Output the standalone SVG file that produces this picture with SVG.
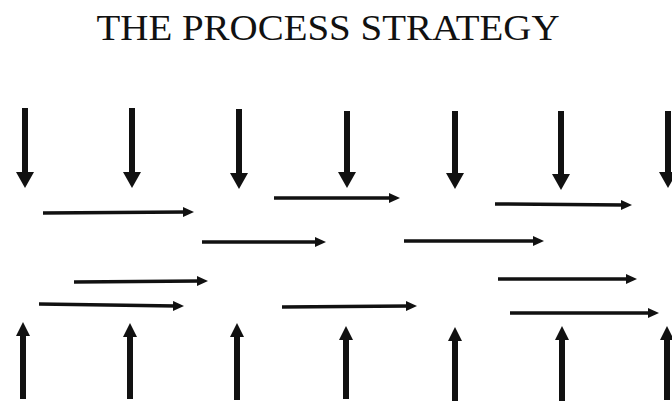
<svg xmlns="http://www.w3.org/2000/svg" width="672" height="410" viewBox="0 0 672 410">
  <style>
    .title { font-family: "Liberation Serif", "Times New Roman", serif; font-size: 35px; fill: #111; }
    .thick { stroke: #111; stroke-width: 6; fill: none; }
    .down { marker-end: url(#headBig); }
    .up { marker-end: url(#headUp); }
    .flow { stroke: #111; stroke-width: 3.5; fill: none; marker-end: url(#headSmall); }
  </style>
  <defs>
    <marker id="headBig" markerUnits="userSpaceOnUse" markerWidth="16" markerHeight="18" refX="5" refY="9" orient="auto" viewBox="0 0 16 18">
      <path d="M0,0 L16,9 L0,18 z" fill="#111"/>
    </marker>
    <marker id="headUp" markerUnits="userSpaceOnUse" markerWidth="14" markerHeight="14" refX="4" refY="7" orient="auto" viewBox="0 0 14 14">
      <path d="M0,0 L14,7 L0,14 z" fill="#111"/>
    </marker>
    <marker id="headSmall" markerUnits="userSpaceOnUse" markerWidth="11" markerHeight="10" refX="3" refY="5" orient="auto" viewBox="0 0 11 10">
      <path d="M0,0 L11,5 L0,10 z" fill="#111"/>
    </marker>
  </defs>

  <g id="title">
    <text class="title" x="328" y="40" text-anchor="middle" textLength="463" lengthAdjust="spacingAndGlyphs">THE PROCESS STRATEGY</text>
  </g>

  <g id="connectors">
    <!-- inputs coming down from above -->
    <g id="inputs">
      <line class="thick down" x1="25" y1="108" x2="25" y2="177"/>
      <line class="thick down" x1="132" y1="108" x2="132" y2="177"/>
      <line class="thick down" x1="239" y1="109" x2="239" y2="178"/>
      <line class="thick down" x1="347" y1="111" x2="347" y2="177"/>
      <line class="thick down" x1="455" y1="111" x2="455" y2="178"/>
      <line class="thick down" x1="561" y1="111" x2="561" y2="179"/>
      <line class="thick down" x1="668" y1="111" x2="668" y2="177"/>
    </g>

    <!-- process flows running left to right -->
    <g id="flows">
      <line class="flow" x1="43" y1="213" x2="186" y2="212"/>
      <line class="flow" x1="274" y1="198" x2="392" y2="198"/>
      <line class="flow" x1="495" y1="204" x2="624" y2="205"/>
      <line class="flow" x1="202" y1="242" x2="318" y2="242"/>
      <line class="flow" x1="404" y1="241" x2="536" y2="241"/>
      <line class="flow" x1="74" y1="282" x2="200" y2="281"/>
      <line class="flow" x1="498" y1="279" x2="629" y2="279"/>
      <line class="flow" x1="39" y1="304" x2="176" y2="306"/>
      <line class="flow" x1="282" y1="307" x2="409" y2="306"/>
      <line class="flow" x1="510" y1="313" x2="651" y2="313"/>
    </g>

    <!-- outputs pushing up from below -->
    <g id="outputs">
      <line class="thick up" x1="23" y1="399" x2="23" y2="332"/>
      <line class="thick up" x1="130" y1="399" x2="130" y2="333"/>
      <line class="thick up" x1="237" y1="400" x2="237" y2="333"/>
      <line class="thick up" x1="346" y1="399" x2="346" y2="336"/>
      <line class="thick up" x1="455" y1="401" x2="455" y2="337"/>
      <line class="thick up" x1="562" y1="401" x2="562" y2="336"/>
      <line class="thick up" x1="667" y1="400" x2="667" y2="336"/>
    </g>
  </g>
</svg>
